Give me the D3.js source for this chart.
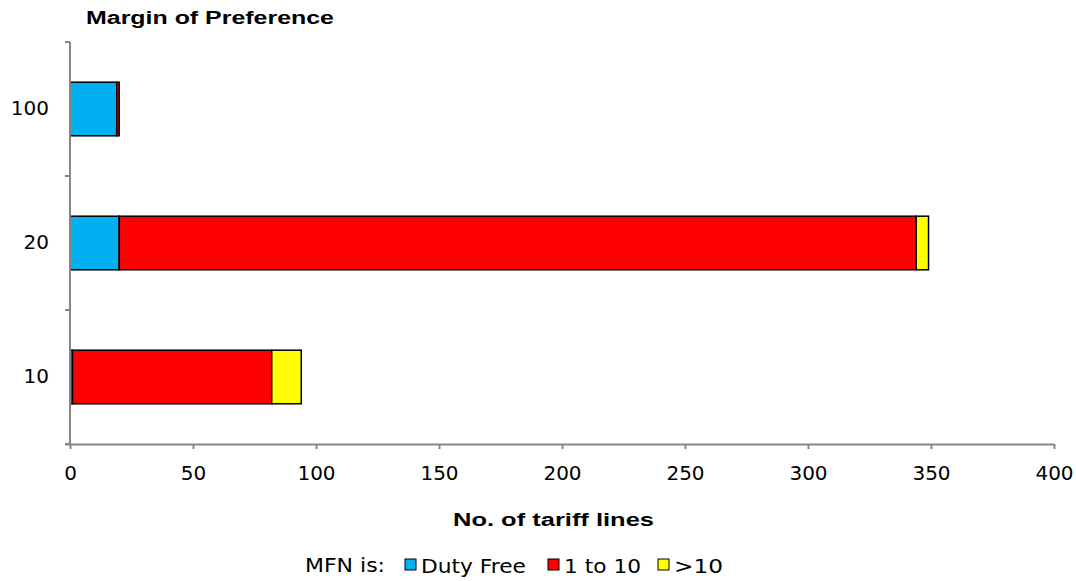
<!DOCTYPE html>
<html>
<head>
<meta charset="utf-8">
<script src="https://cdn.jsdelivr.net/npm/d3@7"></script>
<style>
  html, body { margin: 0; padding: 0; background: #fff; }
  svg { display: block; }
</style>
</head>
<body>
<svg id="chart" width="1076" height="581"></svg>
<script>
// Margin of preference categories (bottom to top on the chart)
const categories = ["10", "20", "100"];
// Number of tariff lines by MFN rate group
const dutyFree = [1, 20, 19];
const oneToTen = [81, 324, 1];
const overTen = [12, 5, 0];
const seriesNames = ["Duty Free", "1 to 10", ">10"];
const seriesColors = ["#00b0f0", "#ff0000", "#ffff00"];
const xTicks = [0, 50, 100, 150, 200, 250, 300, 350, 400];

const svg = d3.select("#chart");
const plot = { left: 70, right: 1054, top: 42, bottom: 444 };

const x = d3.scaleLinear().domain([0, 400]).range([plot.left, plot.right]);
const y = d3.scaleBand().domain(categories.slice().reverse())
  .range([plot.top, plot.bottom]).paddingInner(0.6).paddingOuter(0.3);

const rows = categories.map((c, i) => ({
  cat: c, "Duty Free": dutyFree[i], "1 to 10": oneToTen[i], ">10": overTen[i]
}));
const stacked = d3.stack().keys(seriesNames)(rows);

// Bars
stacked.forEach((layer, si) => {
  svg.append("g").selectAll("rect")
    .data(layer.filter(d => d[1] - d[0] > 0))
    .join("rect")
    .attr("x", d => x(d[0]))
    .attr("y", d => y(d.data.cat))
    .attr("width", d => x(d[1]) - x(d[0]))
    .attr("height", y.bandwidth())
    .attr("fill", seriesColors[si])
    .attr("stroke", "#000")
    .attr("stroke-width", 1.5);
});

const tickFont = "'DejaVu Sans', Verdana, sans-serif";
const boldFont = "'Liberation Sans', Arial, sans-serif";

// X axis
const xAxis = svg.append("g")
  .attr("transform", `translate(0,${plot.bottom})`)
  .call(d3.axisBottom(x).tickValues(xTicks).tickSize(5).tickSizeOuter(0).tickPadding(17));
xAxis.select(".domain").attr("stroke", "#868686").attr("stroke-width", 2)
  .attr("d", `M${plot.left - 5},0.5H${plot.right}`);
xAxis.selectAll(".tick line").attr("stroke", "#868686").attr("stroke-width", 2);
xAxis.selectAll("text").attr("font-family", tickFont).attr("font-size", 20).attr("fill", "#000");

// Y axis with tick marks at the category boundaries
const yBoundaries = d3.range(categories.length + 1).map(i => plot.top + i * (plot.bottom - plot.top) / categories.length);
const yAxisG = svg.append("g");
yAxisG.append("line")
  .attr("x1", plot.left).attr("x2", plot.left)
  .attr("y1", plot.top).attr("y2", plot.bottom)
  .attr("stroke", "#868686").attr("stroke-width", 2);
yAxisG.selectAll("line.yt").data(yBoundaries).join("line")
  .attr("class", "yt")
  .attr("x1", plot.left - 5).attr("x2", plot.left)
  .attr("y1", d => d).attr("y2", d => d)
  .attr("stroke", "#868686").attr("stroke-width", 2);
yAxisG.selectAll("text").data(categories).join("text")
  .attr("x", 49)
  .attr("y", d => y(d) + y.bandwidth() / 2 - 1)
  .attr("dy", "0.35em")
  .attr("text-anchor", "end")
  .attr("font-family", tickFont).attr("font-size", 20).attr("fill", "#000")
  .text(d => d);

// Titles
svg.append("text")
  .attr("x", 86).attr("y", 24)
  .attr("font-family", boldFont)
  .attr("font-weight", "bold").attr("font-size", 18).attr("fill", "#000")
  .attr("textLength", 248).attr("lengthAdjust", "spacingAndGlyphs")
  .text("Margin of Preference");

svg.append("text")
  .attr("x", 453).attr("y", 526)
  .attr("font-family", boldFont)
  .attr("font-weight", "bold").attr("font-size", 18).attr("fill", "#000")
  .attr("textLength", 201).attr("lengthAdjust", "spacingAndGlyphs")
  .text("No. of tariff lines");

// Legend
const legend = svg.append("g").attr("font-family", tickFont).attr("font-size", 19).attr("fill", "#000");
legend.append("text").attr("x", 305).attr("y", 572)
  .attr("textLength", 80).attr("lengthAdjust", "spacingAndGlyphs")
  .text("MFN is:");
const legendX = [405, 548, 658];
const legendTextW = [105, 77, 49];
seriesNames.forEach((name, i) => {
  legend.append("rect")
    .attr("x", legendX[i]).attr("y", 559)
    .attr("width", 11).attr("height", 11)
    .attr("fill", seriesColors[i]).attr("stroke", "#000").attr("stroke-width", 1);
  legend.append("text").attr("x", legendX[i] + 16).attr("y", 573)
    .attr("textLength", legendTextW[i]).attr("lengthAdjust", "spacingAndGlyphs")
    .text(name);
});
</script>
</body>
</html>
